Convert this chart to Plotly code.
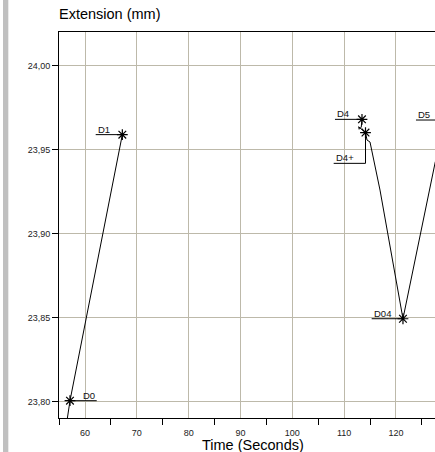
import plotly.graph_objects as go

# ---- data ----
time_s = [56.6, 57.1, 67.2, None,
          113.44, 113.3, 112.9, 112.8, 114.12, 114.41, 114.99, 116.92, 121.35, 127.6]
extension_mm = [23.7903, 23.8006, 23.959, None,
                23.9681, 23.9635, 23.9622, 23.9637, 23.9602, 23.9558, 23.9546, 23.926, 23.8494, 23.943]

point_names = ["D0", "D1", "D4", "D4+", "D04"]
point_time = [57.1, 67.2, 113.44, 114.12, 121.35]
point_ext = [23.8006, 23.959, 23.9681, 23.9602, 23.8494]

x_tick_vals = [60, 70, 80, 90, 100, 110, 120]
x_minor_vals = [55, 65, 75, 85, 95, 105, 115, 125]
y_tick_vals = [23.80, 23.85, 23.90, 23.95, 24.00]

x_title = "Time (Seconds)"
y_title = "Extension (mm)"

# label leader lines: (text, line x0, line x1, line y, text anchor x, xanchor, extra vertical to marker)
labels = [
    ("D0", point_time[0], 62.26, point_ext[0], 62.26, "right", None),
    ("D1", 62.06, point_time[1], point_ext[1], 62.06, "left", None),
    ("D4", 108.23, point_time[2], point_ext[2], 108.23, "left", None),
    ("D4+", 107.98, point_time[3], 23.9419, 107.98, "left", point_ext[3]),
    ("D04", 115.31, point_time[4], point_ext[4], 115.31, "left", None),
    ("D5", 123.86, 131.0, 23.9677, 123.86, "left", None),
]

FONT = "Liberation Sans, Arial, sans-serif"
GRID = "#bdb9aa"

fig = go.Figure()

fig.add_trace(go.Scatter(x=time_s, y=extension_mm, mode="lines",
                         line=dict(color="black", width=1), connectgaps=False,
                         showlegend=False, hoverinfo="skip"))

annotations = []
for text, x0, x1, ly, tx, xa, vy in labels:
    lx = [x0, x1]
    lyy = [ly, ly]
    if vy is not None:
        lx = [x0, x1, x1]
        lyy = [ly, ly, vy]
    fig.add_trace(go.Scatter(x=lx, y=lyy, mode="lines",
                             line=dict(color="black", width=1),
                             showlegend=False, hoverinfo="skip"))
    annotations.append(dict(x=tx, y=ly, xref="x", yref="y", text=text,
                            showarrow=False, xanchor=xa, yanchor="bottom",
                            yshift=-2, font=dict(family=FONT, size=9.5, color="#111")))

fig.add_trace(go.Scatter(x=point_time, y=point_ext, mode="markers",
                         marker=dict(symbol="asterisk-open", size=9, color="black",
                                     line=dict(color="black", width=1.2)),
                         showlegend=False, hoverinfo="skip"))

annotations.append(dict(x=0, y=1.047, xref="paper", yref="paper", text=y_title,
                        showarrow=False, xanchor="left", yanchor="middle", xshift=-2,
                        font=dict(family=FONT, size=14.5, color="black")))
annotations.append(dict(x=0.516, y=-0.071, xref="paper", yref="paper", text=x_title,
                        showarrow=False, xanchor="center", yanchor="middle",
                        font=dict(family=FONT, size=14.5, color="black")))

fig.update_layout(
    width=435, height=452, autosize=False,
    margin=dict(l=59, r=0, t=32, b=34),
    plot_bgcolor="white", paper_bgcolor="white",
    separators=",.",
    font=dict(family=FONT, size=9, color="#222"),
    annotations=annotations,
    shapes=[dict(type="rect", xref="paper", yref="paper",
                 x0=-0.1489, x1=-0.1348, y0=-0.12, y1=1.12,
                 fillcolor="#c0c0c0", line=dict(width=0), layer="below")],
    xaxis=dict(range=[54.98, 127.53], tickmode="array", tickvals=x_tick_vals,
               ticks="outside", ticklen=6, tickcolor="rgba(0,0,0,0)",
               showline=True, linecolor="black", linewidth=1, mirror=True,
               showgrid=True, gridcolor=GRID, gridwidth=1, zeroline=False,
               tickfont=dict(family=FONT, size=9, color="#222"),
               minor=dict(tickmode="array", tickvals=x_minor_vals, ticks="outside",
                          ticklen=6, tickcolor="black", tickwidth=1, showgrid=False)),
    yaxis=dict(range=[23.7903, 24.0201], tickmode="array", tickvals=y_tick_vals,
               tickformat=".2f", ticks="outside", ticklen=6, tickcolor="black",
               showline=True, linecolor="black", linewidth=1,
               showgrid=True, gridcolor=GRID, gridwidth=1, zeroline=False,
               tickfont=dict(family=FONT, size=9, color="#222")),
)

fig.write_html("out.html", config={"displayModeBar": False},
               post_script="document.body.style.margin='0px';document.body.style.overflow='hidden';")
